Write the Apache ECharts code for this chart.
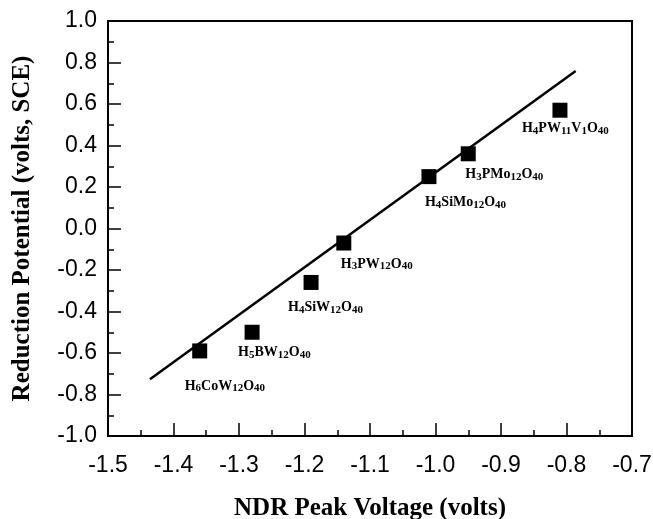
<!DOCTYPE html>
<html>
<head>
<meta charset="utf-8">
<script src="https://cdn.jsdelivr.net/npm/echarts@6/dist/echarts.min.js"></script>
<style>
    html, body { margin: 0; padding: 0; background: #fff; }
    #chart { width: 653px; height: 519px; }
</style>
</head>
<body>
<div id="chart"></div>
<script>
    // 化合物名称（数字作下标）
    const compounds = ['H6CoW12O40', 'H5BW12O40', 'H4SiW12O40', 'H3PW12O40', 'H4SiMo12O40', 'H3PMo12O40', 'H4PW11V1O40']
    // NDR 峰值电压 (volts)
    const ndrPeak = [-1.36, -1.28, -1.19, -1.14, -1.01, -0.95, -0.81]
    // 还原电位 (volts, SCE)
    const reductionPotential = [-0.59, -0.50, -0.26, -0.07, 0.25, 0.36, 0.57]
    // 拟合直线两端点
    const fitX = [-1.436, -0.786]
    const fitY = [-0.727, 0.759]

    // 标签相对标记中心的偏移
    const labelOffsets = [[-15, 35], [-14, 20], [-23, 25], [-3, 21], [-4, 26], [-3, 21], [-38, 18]]

    const black = '#000'
    const serif = '"Liberation Serif", "Times New Roman", serif'
    const sans = '"Liberation Sans", Arial, sans-serif'

    // 把数字转成下标 rich 文本
    function formula (name) {
        return name.split(/(\d+)/).filter(p => p !== '').map(p => /^\d+$/.test(p) ? '{s|' + p + '}' : '{n|' + p + '}').join('')
    }

    const points = compounds.map((name, i) => ({
        name: name,
        value: [ndrPeak[i], reductionPotential[i]],
        label: { offset: labelOffsets[i] }
    }))

    const axisCommon = {
        type: 'value',
        nameLocation: 'middle',
        nameTextStyle: { color: black, fontFamily: serif, fontWeight: 'bold', fontSize: 25 },
        axisLine: { show: true, onZero: false, lineStyle: { color: black, width: 2 } },
        axisTick: { show: true, inside: true, length: 13, lineStyle: { color: black, width: 1.5 } },
        minorTick: { show: true, splitNumber: 2, length: 6, lineStyle: { color: black, width: 1.5 } },
        splitLine: { show: false },
        axisLabel: { color: black, fontFamily: sans, fontSize: 23, formatter: v => v.toFixed(1) }
    }

    const chart = echarts.init(document.getElementById('chart'))
    chart.setOption({
        animation: false,
        backgroundColor: '#fff',
        grid: {
            left: 108, right: 21, top: 21, bottom: 83,
            outerBoundsMode: 'none',
            containLabel: false,
            show: true, borderColor: black, borderWidth: 2, backgroundColor: 'transparent'
        },
        xAxis: Object.assign({}, axisCommon, {
            name: 'NDR Peak Voltage (volts)',
            nameGap: 60,
            min: -1.5,
            max: -0.7,
            interval: 0.1,
            axisLabel: Object.assign({}, axisCommon.axisLabel, { margin: 18 })
        }),
        yAxis: Object.assign({}, axisCommon, {
            name: 'Reduction Potential (volts, SCE)',
            nameGap: 73,
            min: -1,
            max: 1,
            interval: 0.2,
            axisLabel: Object.assign({}, axisCommon.axisLabel, { margin: 11 })
        }),
        series: [
            {
                type: 'line',
                data: fitX.map((x, i) => [x, fitY[i]]),
                showSymbol: false,
                symbol: 'none',
                lineStyle: { color: black, width: 2.5 },
                z: 2
            },
            {
                type: 'scatter',
                data: points,
                symbol: 'rect',
                symbolSize: 15,
                itemStyle: { color: black, opacity: 1 },
                z: 3,
                label: {
                    show: true,
                    position: 'inside',
                    align: 'left',
                    verticalAlign: 'middle',
                    formatter: p => formula(p.name),
                    rich: {
                        n: { color: black, fontFamily: serif, fontWeight: 'bold', fontSize: 14, lineHeight: 16, verticalAlign: 'middle' },
                        s: { color: black, fontFamily: serif, fontWeight: 'bold', fontSize: 11, lineHeight: 8, verticalAlign: 'bottom' }
                    }
                }
            }
        ]
    })
</script>
</body>
</html>
